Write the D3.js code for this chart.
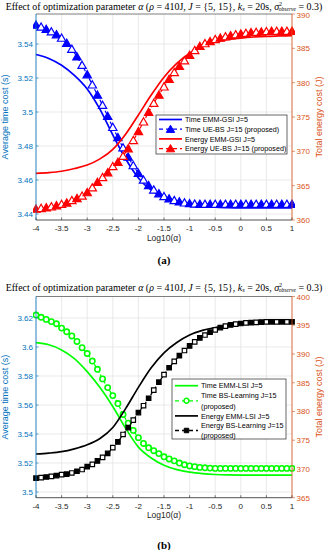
<!DOCTYPE html>
<html><head><meta charset="utf-8">
<script src="https://cdn.jsdelivr.net/npm/d3@7"></script>
<style>body{margin:0;background:#fff}svg{display:block}</style>
</head><body>
<script>
// ---------- DATA ----------
const xTicks = [-4,-3.5,-3,-2.5,-2,-1.5,-1,-0.5,0,0.5,1];
const xTickLabels = ["-4","-3.5","-3","-2.5","-2","-1.5","-1","-0.5","0","0.5","1"];
const xLine = d3.range(0,21).map(i => -4 + i*0.25);     // solid-curve sample points (log10 alpha)
const xMark = d3.range(0,51).map(i => +(-4 + i*0.1).toFixed(1)); // marker sample points

// (a) EMM-GSI vs UE-BS
const timeEMMGSI = [3.5338,3.5315,3.5275,3.5215,3.5135,3.5015,3.4865,3.4725,3.4612,3.4540,3.4495,3.4468,3.4452,3.4444,3.4440,3.4437,3.4436,3.4436,3.4436,3.4436,3.4436];
const timeUEBS = [3.5512,3.5500,3.5487,3.5472,3.5455,3.5435,3.5405,3.5370,3.5325,3.5275,
  3.5220,3.5160,3.5100,3.5040,3.4975,3.4910,3.4850,3.4790,3.4735,3.4685,
  3.4640,3.4600,3.4568,3.4542,3.4520,3.4503,3.4490,3.4480,3.4472,3.4466,
  3.4462,3.4459,3.4458,3.4458,3.4458,3.4458,3.4458,3.4458,3.4458,3.4458,
  3.4458,3.4458,3.4458,3.4458,3.4458,3.4458,3.4458,3.4458,3.4458,3.4458,3.4458];
const energyEMMGSI = [366.8,366.9,367.1,367.5,368.0,368.9,370.3,372.5,375.3,378.2,380.8,382.8,384.3,385.3,385.9,386.3,386.5,386.65,386.75,386.8,386.85];
const energyUEBS = [361.6,361.7,361.8,361.95,362.1,362.3,362.5,362.85,363.15,363.5,
  364.0,364.7,365.5,366.2,366.9,367.8,368.4,369.3,370.4,371.6,
  372.9,374.3,375.7,377.0,378.2,379.4,380.5,381.5,382.4,383.2,
  384.0,384.7,385.3,385.7,386.0,386.3,386.5,386.7,386.85,387.0,
  387.1,387.2,387.3,387.35,387.4,387.45,387.5,387.5,387.5,387.5,387.5];
const leftTicksA = [3.44,3.46,3.48,3.5,3.52,3.54];
const leftTickLabelsA = ["3.44","3.46","3.48","3.5","3.52","3.54"];
const rightTicksA = [360,365,370,375,380,385,390];

// (b) EMM-LSI vs BS-Learning
const timeEMMLSI = [3.603,3.6015,3.598,3.592,3.583,3.572,3.559,3.544,3.531,3.5235,3.5185,3.5155,3.5137,3.5127,3.5121,3.5118,3.5117,3.5117,3.5117,3.5117,3.5117];
const timeBSL = [3.622,3.6205,3.619,3.6175,3.616,3.613,3.6105,3.6076,3.6038,3.5995,
  3.5955,3.5903,3.5846,3.578,3.572,3.5665,3.561,3.5535,3.5475,3.5425,
  3.5375,3.5335,3.5305,3.5285,3.5265,3.5243,3.5228,3.5215,3.52,3.5188,
  3.518,3.5175,3.517,3.5167,3.5165,3.5163,3.5163,3.5163,3.5163,3.5163,
  3.5163,3.5163,3.5163,3.5163,3.5163,3.5163,3.5163,3.5163,3.5163,3.5163,3.5163];
const energyEMMLSI = [372.6,372.75,373.0,373.5,374.2,375.3,377.2,380.5,384.2,387.6,390.2,392.0,393.3,394.1,394.6,395.0,395.2,395.35,395.45,395.5,395.55];
const energyBSL = [368.4,368.5,368.6,368.7,368.85,369.0,369.1,369.3,369.6,369.9,
  370.4,370.8,371.4,372.0,372.7,373.7,374.7,376.0,377.2,378.5,
  379.8,381.0,382.3,383.7,385.1,386.4,387.6,388.7,389.7,390.6,
  391.4,392.1,392.8,393.3,393.8,394.2,394.6,394.85,395.05,395.2,
  395.3,395.4,395.45,395.5,395.55,395.6,395.6,395.6,395.6,395.6,395.6];
const leftTicksB = [3.5,3.52,3.54,3.56,3.58,3.6,3.62];
const leftTickLabelsB = ["3.5","3.52","3.54","3.56","3.58","3.6","3.62"];
const rightTicksB = [365,370,375,380,385,390,395,400];

// ---------- STYLE ----------
const W = 328, H = 550;
const LEFTC = "#0072BD", RIGHTC = "#D95319";
const SANS = "'Liberation Sans', Arial, Helvetica, sans-serif";
const SERIF = "'Liberation Serif', 'DejaVu Serif', serif";

const svg = d3.select("body").append("svg").attr("width", W).attr("height", H);

function title(y) {
  const t = svg.append("text").attr("x", W/2).attr("y", y).attr("text-anchor", "middle")
    .attr("font-family", SERIF).attr("font-size", 10).attr("fill", "#000");
  t.append("tspan").text("Effect of optimization parameter ");
  t.append("tspan").attr("font-style", "italic").text("α");
  t.append("tspan").text(" (");
  t.append("tspan").attr("font-style", "italic").text("ρ");
  t.append("tspan").text(" = 410J, ");
  t.append("tspan").attr("font-style", "italic").text("J");
  t.append("tspan").text(" = {5, 15}, ");
  t.append("tspan").attr("font-style", "italic").text("k");
  t.append("tspan").attr("font-style", "italic").attr("font-size", 6.5).attr("dy", 1.5).text("s");
  t.append("tspan").attr("dy", -1.5).text(" = 20s, ");
  t.append("tspan").attr("font-style", "italic").text("σ");
  t.append("tspan").attr("font-size", 6).attr("dy", -3.5).text("2");
  t.append("tspan").attr("font-style", "italic").attr("font-size", 5.5).attr("dx", -3.2).attr("dy", 5).text("observe");
  t.append("tspan").attr("dy", -1.5).text(" = 0.3)");
  const w = t.node().getBBox().width;
  t.attr("font-size", 10 * 317 / w);
}

function markerPath(kind, size) {
  const sym = kind === "triangle" ? d3.symbolTriangle : kind === "square" ? d3.symbolSquare : d3.symbolCircle;
  return d3.symbol(sym, size)();
}

function panel(cfg) {
  const g = svg.append("g");
  const x = d3.scaleLinear().domain([-4, 1]).range([36, 292]);
  const yl = d3.scaleLinear().domain(cfg.leftDomain).range([cfg.bottom, cfg.top]);
  const yr = d3.scaleLinear().domain(cfg.rightDomain).range([cfg.bottom, cfg.top]);

  // grid
  g.append("g").selectAll("line").data(xTicks).join("line")
    .attr("x1", d => x(d)).attr("x2", d => x(d)).attr("y1", cfg.top).attr("y2", cfg.bottom)
    .attr("stroke", "#e3e3e3").attr("stroke-width", 0.8);
  g.append("g").selectAll("line").data(cfg.leftTicks).join("line")
    .attr("x1", 36).attr("x2", 292).attr("y1", d => yl(d)).attr("y2", d => yl(d))
    .attr("stroke", "#e3e3e3").attr("stroke-width", 0.8);

  // series
  const clip = "clip" + cfg.id;
  svg.append("clipPath").attr("id", clip).append("rect")
    .attr("x", 33).attr("y", cfg.top - 4).attr("width", 262).attr("height", cfg.bottom - cfg.top + 4);
  const sg = g.append("g").attr("clip-path", `url(#${clip})`);
  cfg.series.forEach(s => {
    const ys = s.axis === "left" ? yl : yr;
    const xs = s.markers ? xMark : xLine;
    const line = d3.line().x((d, i) => x(xs[i])).y(d => ys(d)).curve(d3.curveMonotoneX);
    sg.append("path").attr("d", line(s.values)).attr("fill", "none").attr("stroke", s.color)
      .attr("stroke-width", s.markers ? 1.2 : 1.7).attr("stroke-dasharray", s.markers ? "4,2" : null);
    if (s.markers) {
      const size = s.markers === "triangle" ? 30 : s.markers === "square" ? 20 : 22;
      sg.append("g").selectAll("path").data(s.values).join("path")
        .attr("transform", (d, i) => `translate(${x(xs[i])},${ys(d) + (s.markers === "triangle" ? 0.8 : 0)})`)
        .attr("d", markerPath(s.markers, size))
        .attr("fill", (d, i) => s.markers === "circle" ? "#fff" : (i % 2 === 0 ? s.color : "#fff"))
        .attr("stroke", s.color).attr("stroke-width", s.markers === "circle" ? 1.6 : 1.2);
    }
  });

  // axes box
  g.append("line").attr("x1", 36).attr("x2", 292).attr("y1", cfg.top).attr("y2", cfg.top).attr("stroke", "#262626").attr("stroke-width", 0.6);
  g.append("line").attr("x1", 36).attr("x2", 292).attr("y1", cfg.bottom).attr("y2", cfg.bottom).attr("stroke", "#262626").attr("stroke-width", 0.8);
  g.append("line").attr("x1", 36).attr("x2", 36).attr("y1", cfg.top).attr("y2", cfg.bottom).attr("stroke", LEFTC).attr("stroke-width", 0.8);
  g.append("line").attr("x1", 292).attr("x2", 292).attr("y1", cfg.top).attr("y2", cfg.bottom).attr("stroke", RIGHTC).attr("stroke-width", 0.8);

  // x ticks
  g.append("g").selectAll("line").data(xTicks).join("line")
    .attr("x1", d => x(d)).attr("x2", d => x(d)).attr("y1", cfg.bottom).attr("y2", cfg.bottom - 2.5)
    .attr("stroke", "#262626").attr("stroke-width", 0.6);
  g.append("g").selectAll("text").data(xTicks).join("text")
    .attr("x", d => x(d)).attr("y", cfg.bottom + 11).attr("text-anchor", "middle")
    .attr("font-family", SANS).attr("font-size", 8).attr("fill", "#262626")
    .text((d, i) => xTickLabels[i]);
  // left ticks
  g.append("g").selectAll("line").data(cfg.leftTicks).join("line")
    .attr("x1", 36).attr("x2", 38.5).attr("y1", d => yl(d)).attr("y2", d => yl(d))
    .attr("stroke", LEFTC).attr("stroke-width", 0.6);
  g.append("g").selectAll("text").data(cfg.leftTicks).join("text")
    .attr("x", 33).attr("y", d => yl(d) + 3).attr("text-anchor", "end")
    .attr("font-family", SANS).attr("font-size", 8).attr("fill", LEFTC)
    .text((d, i) => cfg.leftLabels[i]);
  // right ticks
  g.append("g").selectAll("line").data(cfg.rightTicks).join("line")
    .attr("x1", 292).attr("x2", 295).attr("y1", d => yr(d)).attr("y2", d => yr(d))
    .attr("stroke", RIGHTC).attr("stroke-width", 0.6);
  g.append("g").selectAll("text").data(cfg.rightTicks).join("text")
    .attr("x", 296.5).attr("y", d => yr(d) + (d === cfg.rightTicks[cfg.rightTicks.length - 1] ? 3.5 : 3)).attr("text-anchor", "start")
    .attr("font-family", SANS).attr("font-size", 8).attr("fill", RIGHTC)
    .text(d => d);

  // axis labels
  const mid = (cfg.top + cfg.bottom) / 2;
  g.append("text").attr("transform", `translate(8,${mid}) rotate(-90)`).attr("text-anchor", "middle")
    .attr("font-family", SANS).attr("font-size", 9).attr("fill", LEFTC).text("Average time cost (s)");
  g.append("text").attr("transform", `translate(322,${mid}) rotate(-90)`).attr("text-anchor", "middle")
    .attr("font-family", SANS).attr("font-size", 9).attr("fill", RIGHTC).text("Total energy cost (J)");
  g.append("text").attr("x", 164).attr("y", cfg.bottom + 20.5).attr("text-anchor", "middle")
    .attr("font-family", SANS).attr("font-size", 8.5).attr("fill", "#262626").text("Log10(α)");
  svg.append("text").attr("x", 164).attr("y", cfg.capY).attr("text-anchor", "middle")
    .attr("font-family", SERIF).attr("font-weight", "bold").attr("font-size", 11).text(cfg.cap);

  // legend
  const L = cfg.legend;
  g.append("rect").attr("x", L.x0).attr("y", L.y0).attr("width", L.x1 - L.x0).attr("height", L.y1 - L.y0)
    .attr("fill", "#fff").attr("stroke", "#262626").attr("stroke-width", 0.7);
  L.items.forEach(it => {
    const s = cfg.series[it.s];
    const ly = it.sy;
    g.append("line").attr("x1", L.sx0).attr("x2", L.sx1).attr("y1", ly).attr("y2", ly)
      .attr("stroke", s.color).attr("stroke-width", s.markers ? 1.3 : 1.7).attr("stroke-dasharray", s.markers ? "4,3" : null);
    if (s.markers) {
      g.append("path").attr("transform", `translate(${(L.sx0 + L.sx1) / 2},${ly + (s.markers === "triangle" ? 0.8 : 0)})`)
        .attr("d", markerPath(s.markers, s.markers === "triangle" ? 30 : 20))
        .attr("fill", s.markers === "circle" ? "#fff" : s.color).attr("stroke", s.color).attr("stroke-width", s.markers === "circle" ? 1.5 : 1);
    }
    it.lines.forEach((txt, k) => {
      g.append("text").attr("x", L.tx).attr("y", it.ty[k] + 2.7).attr("font-family", SANS)
        .attr("font-size", 7.2).attr("fill", "#000").text(txt);
    });
  });
}

title(9.5);
panel({
  id: "a", top: 14, bottom: 220, leftDomain: [3.43647, 3.55765], rightDomain: [360, 390],
  leftTicks: leftTicksA, leftLabels: leftTickLabelsA, rightTicks: rightTicksA,
  cap: "(a)", capY: 264,
  series: [
    {values: timeEMMGSI, axis: "left", color: "#0000ff"},
    {values: timeUEBS, axis: "left", color: "#0000ff", markers: "triangle"},
    {values: energyEMMGSI, axis: "right", color: "#ff0000"},
    {values: energyUEBS, axis: "right", color: "#ff0000", markers: "triangle"}
  ],
  legend: {x0: 156, x1: 287, y0: 115, y1: 154, sx0: 159, sx1: 182, tx: 185,
    items: [
      {s: 0, sy: 119.5, lines: ["Time EMM-GSI J=5"], ty: [119.5]},
      {s: 1, sy: 129.2, lines: ["Time UE-BS J=15 (proposed)"], ty: [129.2]},
      {s: 2, sy: 138.9, lines: ["Energy EMM-GSI J=5"], ty: [138.9]},
      {s: 3, sy: 148.6, lines: ["Energy UE-BS J=15 (proposed)"], ty: [148.6]}
    ]}
});
title(290.5);
panel({
  id: "b", top: 296.5, bottom: 497.7, leftDomain: [3.4961, 3.6348], rightDomain: [365, 400],
  leftTicks: leftTicksB, leftLabels: leftTickLabelsB, rightTicks: rightTicksB,
  cap: "(b)", capY: 549,
  series: [
    {values: timeEMMLSI, axis: "left", color: "#00ff00"},
    {values: timeBSL, axis: "left", color: "#00ff00", markers: "circle"},
    {values: energyEMMLSI, axis: "right", color: "#000000"},
    {values: energyBSL, axis: "right", color: "#000000", markers: "square"}
  ],
  legend: {x0: 172, x1: 286, y0: 379, y1: 439, sx0: 175, sx1: 198, tx: 201,
    items: [
      {s: 0, sy: 385.7, lines: ["Time EMM-LSI J=5"], ty: [385.7]},
      {s: 1, sy: 400.8, lines: ["Time BS-Learning J=15", "(proposed)"], ty: [395.7, 405.8]},
      {s: 2, sy: 415.9, lines: ["Energy EMM-LSI J=5"], ty: [415.9]},
      {s: 3, sy: 430.5, lines: ["Energy BS-Learning J=15", "(proposed)"], ty: [425.7, 435.3]}
    ]}
});
</script>
</body></html>
